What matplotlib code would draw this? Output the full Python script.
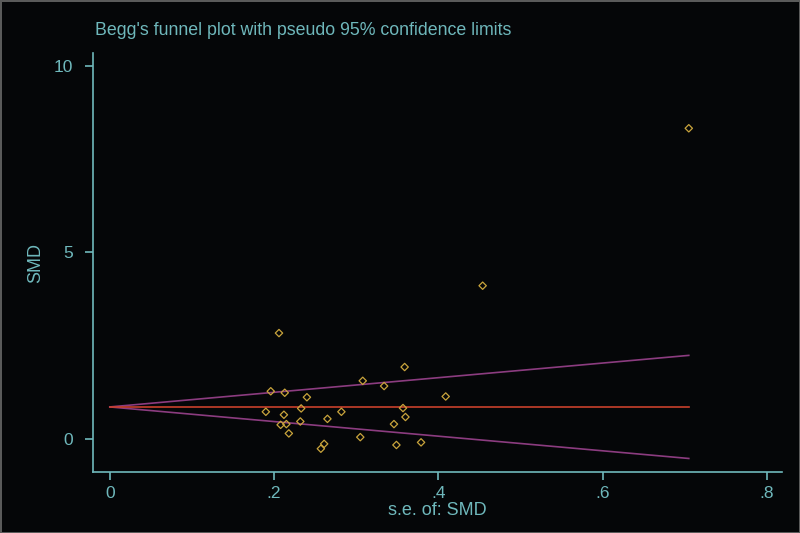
import numpy as np
import matplotlib.pyplot as plt

plt.rcParams['font.family'] = ['Liberation Sans', 'DejaVu Sans']

# standard errors and SMD values
se = [0.206, 0.359, 0.308, 0.334, 0.196, 0.213, 0.240, 0.409, 0.233,
      0.357, 0.190, 0.212, 0.282, 0.360, 0.265, 0.232, 0.208, 0.215,
      0.346, 0.218, 0.305, 0.261, 0.257, 0.349, 0.379, 0.454, 0.705]
smd = [2.84, 1.93, 1.56, 1.42, 1.28, 1.24, 1.12, 1.14, 0.82,
       0.83, 0.73, 0.65, 0.73, 0.59, 0.54, 0.47, 0.38, 0.40,
       0.40, 0.15, 0.05, -0.13, -0.26, -0.16, -0.09, 4.11, 8.33]
pooled = 0.86

xticks = [0, 0.2, 0.4, 0.6, 0.8]
xticklabels = ['0', '.2', '.4', '.6', '.8']
yticks = [0, 5, 10]

bg = '#050608'
txt = '#6fb8bc'

fig = plt.figure(figsize=(8, 5.33), dpi=100, facecolor=bg)
fig.patch.set_edgecolor('#5a5a5a')
fig.patch.set_linewidth(2)
ax = fig.add_axes([0.116, 0.1144, 0.8615, 0.7856])
ax.set_facecolor(bg)

# pseudo 95% limits
s = np.linspace(0, max(se), 50)
ax.plot(s, pooled + 1.96 * s, color='#8c3c80', lw=1.2)
ax.plot(s, pooled - 1.96 * s, color='#8c3c80', lw=1.2)
ax.plot(s, np.full_like(s, pooled), color='#c8402c', lw=1.2)

ax.scatter(se, smd, marker='D', s=14, facecolors='none',
           edgecolors='#c9a43c', linewidths=0.9, zorder=3)

ax.set_xlim(-0.0207, 0.8185)
ax.set_ylim(-0.885, 10.34)
ax.set_xticks(xticks)
ax.set_xticklabels(xticklabels)
ax.set_yticks(yticks)

for side in ['top', 'right']:
    ax.spines[side].set_visible(False)
for side in ['left', 'bottom']:
    ax.spines[side].set_color(txt)
    ax.spines[side].set_linewidth(1.2)
ax.tick_params(colors=txt, labelcolor=txt, labelsize=12.5, length=6, width=1.2)
ax.tick_params(axis='y', pad=8.5)
ax.tick_params(axis='x', pad=4)

ax.set_xlabel('s.e. of: SMD', color=txt, fontsize=13, labelpad=1)
ax.set_ylabel('SMD', color=txt, fontsize=13, labelpad=6.5)
fig.text(0.119, 0.943, "Begg's funnel plot with pseudo 95% confidence limits",
         color=txt, fontsize=12.8, ha='left', va='center')

fig.savefig('out.png', facecolor=bg, edgecolor=fig.patch.get_edgecolor())
